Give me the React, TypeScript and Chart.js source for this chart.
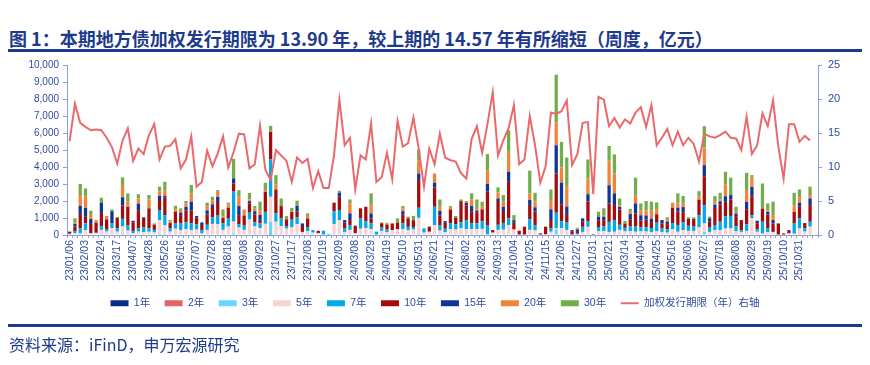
import React, { useEffect, useRef } from 'react';
import { Chart, registerables } from 'chart.js';

Chart.register(...registerables);

// ---------------- data ----------------
const weeks = [
  '23/01/06','23/01/13','23/01/20','23/02/03','23/02/10','23/02/17','23/02/24','23/03/03','23/03/10','23/03/17',
  '23/03/24','23/03/31','23/04/07','23/04/14','23/04/21','23/04/28','23/05/12','23/05/19','23/05/26','23/06/02',
  '23/06/09','23/06/16','23/06/23','23/06/30','23/07/07','23/07/14','23/07/21','23/07/28','23/08/04','23/08/11',
  '23/08/18','23/08/25','23/09/01','23/09/08','23/09/15','23/09/22','23/09/29','23/10/13','23/10/20','23/10/27',
  '23/11/03','23/11/10','23/11/17','23/11/24','23/12/01','23/12/08','23/12/15','23/12/22','24/01/19','24/01/26',
  '24/02/02','24/02/09','24/02/23','24/03/01','24/03/08','24/03/15','24/03/22','24/03/29','24/04/05','24/04/12',
  '24/04/19','24/04/26','24/05/03','24/05/10','24/05/17','24/05/24','24/05/31','24/06/07','24/06/14','24/06/21',
  '24/06/28','24/07/05','24/07/12','24/07/19','24/07/26','24/08/02','24/08/09','24/08/16','24/08/23','24/08/30',
  '24/09/06','24/09/13','24/09/20','24/09/27','24/10/04','24/10/11','24/10/18','24/10/25','24/11/01','24/11/08',
  '24/11/15','24/11/22','24/11/29','24/12/06','24/12/13','24/12/20','24/12/27','25/01/10','25/01/17','25/01/31',
  '25/02/07','25/02/14','25/02/21','25/02/28','25/03/07','25/03/14','25/03/21','25/03/28','25/04/04','25/04/11',
  '25/04/18','25/04/25','25/05/02','25/05/09','25/05/16','25/05/23','25/05/30','25/06/06','25/06/13','25/06/20',
  '25/06/27','25/07/04','25/07/11','25/07/18','25/07/25','25/08/01','25/08/08','25/08/15','25/08/22','25/08/29',
  '25/09/05','25/09/12','25/09/19','25/09/26','25/10/03','25/10/10','25/10/17','25/10/24','25/10/31','25/11/07',
  '25/11/14','25/11/21',
];

const y1 = [
  0,0,0,0,0,0,0,0,0,0, 0,0,0,0,0,0,0,0,0,0, 0,0,0,0,0,0,0,0,0,0, 0,0,0,0,0,0,0,0,50,0,
  0,0,0,0,0,0,0,0,0,0, 0,0,0,0,0,0,0,0,0,0, 0,0,0,0,0,0,0,0,0,0, 0,0,0,0,0,0,0,0,0,0,
  0,0,0,0,0,0,0,0,0,0, 0,0,0,0,0,0,0,0,0,0, 0,0,0,0,0,0,0,0,0,0, 0,0,0,0,0,0,0,0,0,0,
  0,0,0,0,0,0,0,0,0,0, 0,0,0,0,0,0,0,0,0,0, 0,0,
];
const y2 = [
  0,0,0,0,0,0,0,0,0,0, 0,0,0,0,0,0,0,0,0,0, 0,0,0,0,0,0,0,0,0,0, 0,0,0,0,0,0,0,0,0,0,
  0,0,0,0,0,0,0,0,0,0, 0,0,0,0,0,0,0,0,0,0, 0,0,0,0,0,0,0,0,0,0, 0,0,0,0,0,0,0,0,0,0,
  0,0,0,0,0,0,0,0,0,0, 0,0,0,0,0,0,0,0,0,0, 0,0,0,0,0,0,0,0,0,0, 0,0,0,0,0,0,0,0,0,0,
  0,0,0,0,0,0,0,0,0,0, 0,0,0,0,0,0,0,0,0,0, 0,0,
];
const y3 = [
  0,0,40,0,0,0,0,0,0,0, 70,0,0,0,0,0,0,60,60,0, 0,0,0,0,0,0,0,0,0,0, 0,90,0,0,0,0,0,0,730,50,
  0,0,0,0,0,0,0,0,0,0, 0,0,0,0,0,0,0,0,0,0, 0,0,0,0,0,0,60,0,0,0, 0,0,0,0,0,0,0,0,0,60,
  0,0,0,0,0,0,0,0,0,0, 0,0,330,0,0,0,0,0,0,0, 0,0,0,0,0,0,0,0,0,0, 0,0,0,0,0,0,0,0,0,0,
  190,0,0,0,0,0,0,0,0,0, 0,0,0,0,0,0,0,0,0,0, 0,0,
];
const y5 = [
  50,100,50,290,100,130,300,200,400,200, 430,260,100,200,160,190,150,820,520,200,
  370,270,350,290,320,100,300,650,640,300, 500,700,440,300,910,500,400,660,1470,730,
  520,370,450,640,180,220,140,100,0,0, 650,870,180,300,100,370,410,340,0,240,
  170,280,330,350,280,320,950,140,190,580, 260,170,350,320,400,350,350,340,360,0,
  140,300,310,590,320,0,0,300,280,0, 40,190,60,410,300,0,0,180,480,0,
  220,220,180,190,300,220,230,190,210,200, 160,220,180,140,350,190,290,240,240,470,
  490,180,290,280,380,390,210,180,240,1000, 190,80,160,180,0,0,90,80,380,200,
  490,0,
];
const y7 = [
  30,100,300,390,0,0,200,120,300,200, 450,300,140,180,280,200,150,590,590,200,
  300,400,400,400,300,190,300,400,500,400, 500,1760,200,250,400,250,290,700,2210,490,
  450,150,450,400,0,250,150,0,250,60, 750,600,200,290,0,600,400,350,200,200,
  150,0,0,350,200,150,590,250,0,1080, 300,200,350,300,350,500,350,350,450,490,
  0,300,400,390,0,0,0,630,300,0, 0,200,920,400,430,0,80,300,310,0,
  250,300,590,690,300,200,300,300,250,250, 250,500,200,200,350,400,450,300,250,690,
  1080,250,300,500,730,730,300,100,400,160, 150,700,250,0,0,0,0,590,590,200,
  290,0,
];
const y10 = [
  120,300,840,430,550,600,800,600,0,600, 780,1100,500,1080,600,1180,300,590,1020,300,
  700,500,700,740,400,300,600,600,800,300, 600,490,530,600,530,450,200,1180,1610,1410,
  730,400,450,330,350,500,0,150,0,0, 500,780,350,290,450,600,850,290,0,250,
  300,400,400,500,500,400,1630,0,300,1140, 600,350,800,400,1240,900,700,650,700,2000,
  150,1400,700,2150,400,250,490,840,800,100, 450,490,2310,1000,510,190,150,300,1180,60,
  400,350,1080,880,900,250,400,780,400,450, 350,500,300,300,900,780,600,400,450,920,
  1700,350,1000,1000,840,980,600,600,880,1120, 350,780,800,500,680,100,150,690,690,300,
  980,0,
];
const y15 = [
  0,150,490,490,290,0,600,0,700,0, 490,0,100,390,0,0,0,250,120,0,
  0,150,200,530,100,150,250,150,300,0, 0,290,530,0,150,200,290,0,0,0,
  0,0,0,350,150,0,0,0,0,0, 0,230,150,390,0,0,0,290,0,0,
  0,0,0,200,0,0,390,0,0,270, 250,100,0,0,0,150,300,100,0,450,
  0,150,250,590,150,0,0,290,250,0, 0,630,1660,1270,430,100,100,200,430,0,
  200,200,1080,690,150,0,300,590,300,250, 200,0,200,150,0,240,300,0,0,0,
  650,200,200,200,330,250,150,0,430,550, 150,0,150,200,0,0,50,0,240,0,
  390,0,
];
const y20 = [
  0,80,630,650,240,150,0,200,0,0, 720,300,0,300,0,530,0,240,290,100,
  150,150,200,490,0,0,250,250,300,100, 200,0,550,350,100,150,250,100,60,310,
  0,0,50,0,0,150,0,0,0,0, 0,0,0,590,0,0,0,550,0,0,
  50,0,0,150,0,0,780,0,0,550, 250,0,100,0,0,100,400,150,150,780,
  0,350,300,1170,0,0,0,390,350,0, 0,500,1330,900,1210,0,50,0,920,0,
  0,100,1470,1170,100,0,150,490,300,300, 500,300,0,150,300,290,200,0,0,200,
  1040,0,200,100,710,0,100,0,690,550, 0,0,100,300,0,0,0,390,310,0,
  200,0,
];
const y30 = [
  0,250,650,490,250,0,290,0,100,60, 450,490,0,250,0,250,80,290,530,80,
  200,100,150,490,0,0,200,200,100,400, 100,1150,390,0,390,150,530,430,290,530,
  450,200,200,300,0,150,0,0,0,0, 0,120,0,230,0,0,0,630,0,50,
  50,0,250,150,100,250,630,0,0,0, 430,0,100,100,100,0,350,500,300,980,
  0,300,390,1270,300,0,0,1330,500,0, 0,670,2820,1500,1680,0,50,0,1120,0,
  300,400,840,1120,400,150,150,1020,400,550, 500,400,0,100,0,550,450,100,100,300,
  1250,100,300,400,730,1020,300,0,1020,140, 0,1470,400,780,0,0,0,730,470,0,
  490,0,
];

const duration = [
  13.8,19.3,16.5,15.9,15.4,15.5,15.4,14.3,12.9,10.5, 13.9,15.7,10.9,12.7,11.9,14.7,16.3,11.1,13.0,13.1,
  14.1,9.8,11.1,14.5,7.1,7.8,12.4,10.1,12.0,14.5, 9.9,12.2,14.9,14.8,9.8,10.4,16.1,9.6,8.1,12.5,
  11.7,10.9,7.8,11.4,10.6,11.2,6.9,9.4,6.9,6.9, 11.8,19.9,13.2,14.3,6.7,11.7,11.1,16.4,7.8,8.5,
  12.1,8.2,16.8,13.0,13.5,17.3,12.7,7.1,12.7,10.4, 14.9,11.4,11.0,10.8,9.1,8.3,14.1,16.0,12.1,16.3,
  21.0,11.7,13.9,15.7,19.1,10.4,11.1,17.5,13.2,7.7, 10.1,18.0,17.8,18.2,19.8,10.3,11.9,16.5,16.6,6.0,
  20.3,19.9,16.0,17.2,15.8,17.0,16.4,18.0,18.8,15.9, 19.1,13.2,14.3,15.6,13.2,15.2,13.2,14.3,13.4,10.8,
  14.9,14.5,14.3,14.7,15.2,14.3,14.2,12.5,17.4,11.9, 13.2,17.9,16.0,19.8,13.0,8.3,16.3,16.3,13.7,14.57,
  13.90,null,
];

const seriesNames = ['1年', '2年', '3年', '5年', '7年', '10年', '15年', '20年', '30年'];
const seriesValues = [y1, y2, y3, y5, y7, y10, y15, y20, y30];
const lineName = '加权发行期限（年）右轴';
const leftMax = 10000;
const leftStep = 1000;
const rightMax = 25;
const rightStep = 5;
const labelEvery = 3;
const lastLabelled = '25/10/31';

const titleText = '图 1：本期地方债加权发行期限为 13.90 年，较上期的 14.57 年有所缩短（周度，亿元）';
const sourceText = '资料来源：iFinD，申万宏源研究';

// ---------------- style ----------------
const barColors = ['#0b2b8c', '#e26565', '#68d6fd', '#f9d2d2', '#00a9e9', '#a30c0c', '#0f3599', '#f0843a', '#72ad4b'];
const lineColor = '#e96a6c';
const navy = '#1d3a8c';
const tickColor = '#2e4c9e';
const axisColor = '#8aa2dc';
const tickFont = { family: '"Liberation Sans", Arial, sans-serif', size: 10 };
const cjkFont = '"Liberation Sans", "Noto Sans CJK SC", sans-serif';

export default function App() {
  const canvasRef = useRef<HTMLCanvasElement | null>(null);

  useEffect(() => {
    const canvas = canvasRef.current;
    if (!canvas) return;
    const lastIdx = weeks.indexOf(lastLabelled);
    const datasets: any[] = seriesNames.map((name, i) => ({
      type: 'bar',
      label: name,
      data: seriesValues[i],
      backgroundColor: barColors[i],
      borderWidth: 0,
      yAxisID: 'y',
      stack: 's',
      barPercentage: 0.62,
      categoryPercentage: 1.0,
      order: 1,
    }));
    datasets.push({
      type: 'line',
      label: lineName,
      data: duration,
      borderColor: lineColor,
      backgroundColor: lineColor,
      borderWidth: 2,
      pointRadius: 0,
      tension: 0,
      yAxisID: 'y1',
      order: 0,
    });

    const chart = new Chart(canvas, {
      type: 'bar',
      data: { labels: weeks, datasets },
      options: {
        responsive: false,
        animation: false,
        maintainAspectRatio: false,
        layout: { padding: { top: 65, left: 8, right: 8, bottom: 46.5 } },
        plugins: {
          tooltip: { enabled: false },
          legend: {
            position: 'bottom',
            align: 'center',
            labels: {
              usePointStyle: true,
              pointStyleWidth: 18,
              boxHeight: 6,
              padding: 14.5,
              color: tickColor,
              font: { family: cjkFont, size: 10.5 },
              generateLabels: (ch: any) =>
                ch.data.datasets.map((ds: any, i: number) => ({
                  text: ds.label,
                  fillStyle: ds.type === 'line' ? 'rgba(0,0,0,0)' : ds.backgroundColor,
                  strokeStyle: ds.type === 'line' ? ds.borderColor : ds.backgroundColor,
                  lineWidth: ds.type === 'line' ? 2 : 0,
                  pointStyle: ds.type === 'line' ? 'line' : 'rect',
                  hidden: false,
                  datasetIndex: i,
                  fontColor: tickColor,
                })),
            },
          },
        },
        scales: {
          x: {
            stacked: true,
            offset: true,
            grid: { display: true, drawOnChartArea: false, drawTicks: true, tickLength: 3, color: axisColor, offset: true },
            border: { display: true, color: axisColor, width: 1 },
            ticks: {
              autoSkip: false,
              minRotation: 90,
              maxRotation: 90,
              padding: 2,
              color: tickColor,
              font: { ...tickFont, size: 10.5 },
              callback: (_v: any, idx: number) => (idx % labelEvery === 0 && idx <= lastIdx ? weeks[idx] : ''),
            },
            afterFit: (s: any) => { s.height = 48.5; },
          },
          y: {
            stacked: true,
            position: 'left',
            min: 0,
            max: leftMax,
            grid: { display: true, drawOnChartArea: false, drawTicks: true, tickLength: 4, color: axisColor },
            border: { display: true, color: axisColor, width: 1 },
            ticks: {
              stepSize: leftStep,
              color: tickColor,
              font: tickFont,
              padding: 4,
              callback: (v: any) => Number(v).toLocaleString('en-US'),
            },
            afterFit: (s: any) => { s.width = 59; },
          },
          y1: {
            position: 'right',
            min: 0,
            max: rightMax,
            grid: { display: true, drawOnChartArea: false, drawTicks: true, tickLength: 4, color: axisColor },
            border: { display: true, color: axisColor, width: 1 },
            ticks: { stepSize: rightStep, color: tickColor, font: { ...tickFont, size: 11 }, padding: 6 },
            afterFit: (s: any) => { s.width = 44; },
          },
        },
      },
    } as any);
    return () => chart.destroy();
  }, []);

  return (
    <div style={{ position: 'absolute', left: 0, top: 0, width: 870, height: 365, background: '#ffffff', overflow: 'hidden' }}>
      <div
        style={{
          position: 'absolute', left: 9, top: 29, whiteSpace: 'nowrap',
          font: 'bold 18px "Noto Sans CJK SC", "Liberation Sans", sans-serif', lineHeight: '18px', color: navy,
        }}
      >
        {titleText}
      </div>
      <div style={{ position: 'absolute', left: 8, top: 49, width: 854, height: 2.5, background: '#1f3a93' }} />
      <canvas ref={canvasRef} width={870} height={365} style={{ position: 'absolute', left: 0, top: 0, width: 870, height: 365 }} />
      <div style={{ position: 'absolute', left: 8, top: 324, width: 854, height: 2.5, background: '#1f3a93' }} />
      <div
        style={{
          position: 'absolute', left: 9, top: 336, whiteSpace: 'nowrap',
          font: '16px "Noto Sans CJK SC", "Liberation Sans", sans-serif', lineHeight: '16px', color: navy,
        }}
      >
        {sourceText}
      </div>
    </div>
  );
}
